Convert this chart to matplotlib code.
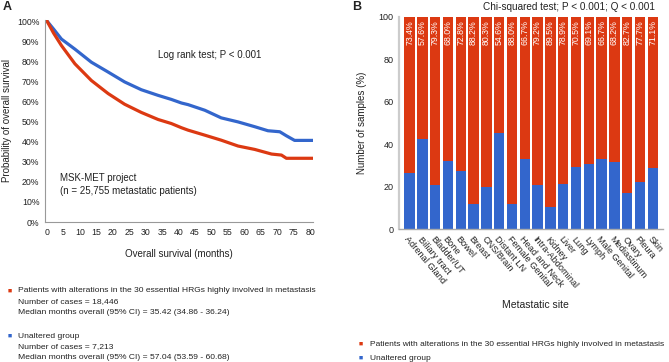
import matplotlib.pyplot as plt
import numpy as np

plt.rcParams['font.family'] = ['Liberation Sans', 'DejaVu Sans']
plt.rcParams['text.color'] = '#222222'
plt.rcParams['axes.labelcolor'] = '#222222'
plt.rcParams['xtick.color'] = '#222222'
plt.rcParams['ytick.color'] = '#222222'

RED = '#dc3912'
BLUE = '#3366cc'

# panel A: Kaplan-Meier curves
months_alt = [0, 2, 4.4, 8.5, 13.5, 18.6, 23.6, 28.7, 33.8, 37.8, 40.9, 42.9,
              48, 53, 58.1, 63.2, 68.3, 71.3, 72.8, 81.4]
surv_alt = [100, 94, 87.8, 78.7, 70.4, 63.9, 58.6, 54.5, 51, 49, 46.9, 45.7,
            43.2, 40.7, 37.8, 36.1, 33.8, 33.3, 31.7, 31.7]
months_unalt = [0, 2, 4.4, 8.5, 13.5, 18.6, 23.6, 28.7, 33.8, 37.8, 40.9, 42.9,
                48, 53, 58.1, 63.2, 67.2, 70.8, 72.8, 75.3, 80.9]
surv_unalt = [100, 96, 91, 86, 79.5, 74.6, 69.7, 65.8, 63, 61, 59.2, 58.4,
              55.6, 51.8, 49.8, 47.4, 45.4, 44.9, 42.9, 40.6, 40.6]
x_ticks_a = list(range(0, 81, 5))
y_ticks_a = list(range(0, 101, 10))

# panel B: % of altered samples per metastatic site
sites = ['Adrenal Gland', 'Biliary tract', 'Bladder/UT', 'Bone', 'Bowel', 'Breast',
         'CNS/Brain', 'Distant LN', 'Female Genital', 'Head and Neck',
         'Intra-Abdominal', 'Kidney', 'Liver', 'Lung', 'Lymph', 'Male Genital',
         'Mediastinum', 'Ovary', 'Pleura', 'Skin']
altered_pct = [73.4, 57.6, 79.3, 68.0, 72.8, 88.2, 80.3, 54.6, 88.0, 66.7,
               79.2, 89.5, 78.9, 70.5, 69.1, 66.7, 68.2, 82.7, 77.7, 71.1]
unaltered_pct = [round(100 - v, 1) for v in altered_pct]

W, H = 669, 362
fig = plt.figure(figsize=(W / 100, H / 100), dpi=100)


def px_axes(left, top, right, bottom):
    return fig.add_axes([left / W, 1 - bottom / H, (right - left) / W, (bottom - top) / H])


# ---------- A ----------
ax = px_axes(45, 20, 313, 222)
ax.plot(months_unalt, surv_unalt, color=BLUE, lw=2.3, solid_capstyle='round')
ax.plot(months_alt, surv_alt, color=RED, lw=2.3, solid_capstyle='round')
ax.set_xlim(-0.6, 80.9)
ax.set_ylim(0, 100.5)
ax.set_xticks(x_ticks_a)
ax.set_yticks(y_ticks_a)
ax.set_yticklabels([f'{v}%' for v in y_ticks_a])
ax.tick_params(length=0, labelsize=6.3, pad=4)
for s in ['top', 'right']:
    ax.spines[s].set_visible(False)
for s in ['left', 'bottom']:
    ax.spines[s].set_color('#999999')
    ax.spines[s].set_linewidth(0.8)
ax.set_xlabel('Overall survival (months)', fontsize=7, labelpad=9)
ax.set_ylabel('Probability of overall survival', fontsize=7, labelpad=4)
ax.text(0.42, 0.81, 'Log rank test; P < 0.001', transform=ax.transAxes, fontsize=7)
ax.text(0.055, 0.13, 'MSK-MET project\n(n = 25,755 metastatic patients)',
        transform=ax.transAxes, fontsize=7, linespacing=1.3, va='bottom')

fig.text(3 / W, 1 - 7 / H, 'A', fontsize=9, fontweight='bold', va='center')
fig.text(352 / W, 1 - 7 / H, 'B', fontsize=9, fontweight='bold', va='center')

legend_a = [
    (RED, 291, ['Patients with alterations in the 30 essential HRGs highly involved in metastasis',
                'Number of cases = 18,446',
                'Median months overall (95% CI) = 35.42 (34.86 - 36.24)']),
    (BLUE, 336, ['Unaltered group',
                 'Number of cases = 7,213',
                 'Median months overall (95% CI) = 57.04 (53.59 - 60.68)']),
]
for col, y0, lines in legend_a:
    fig.text(10 / W, 1 - y0 / H, '\u25a0', color=col, fontsize=5, va='center', ha='center')
    for i, line in enumerate(lines):
        fig.text(18 / W, 1 - (y0 + i * 10.8) / H, line, fontsize=6.1, va='center')

# ---------- B ----------
bx = px_axes(399, 16.7, 663, 229.3)
xpos = np.arange(len(sites))
bx.bar(xpos, unaltered_pct, width=0.82, color=BLUE)
bx.bar(xpos, altered_pct, width=0.82, bottom=unaltered_pct, color=RED)
for x, v in zip(xpos, altered_pct):
    bx.text(x, 98.3, f'{v:.1f}%', rotation=90, ha='center', va='top',
            color='white', fontsize=6.3)
bx.set_xlim(-0.83, 19.8)
bx.set_ylim(0, 100)
bx.set_yticks([0, 20, 40, 60, 80, 100])
bx.set_xticks(xpos)
bx.set_xticklabels(sites, rotation=-50, ha='left', va='top', rotation_mode='anchor')
bx.tick_params(axis='x', length=0, labelsize=6.6, pad=4)
bx.tick_params(axis='y', length=0, labelsize=6.5, pad=4)
for s in ['top', 'right']:
    bx.spines[s].set_visible(False)
bx.spines['left'].set_color('#cccccc')
bx.spines['left'].set_linewidth(1.6)
bx.spines['bottom'].set_color('#aaaaaa')
bx.spines['bottom'].set_linewidth(1.0)
bx.set_ylabel('Number of samples (%)', fontsize=7, labelpad=8)
fig.text(535 / W, 1 - 305 / H, 'Metastatic site', fontsize=7.5, ha='center', va='center')
fig.text(655 / W, 1 - 7 / H, 'Chi-squared test; P < 0.001; Q < 0.001', fontsize=7.2,
         ha='right', va='center')

legend_b = [(RED, 344, 'Patients with alterations in the 30 essential HRGs highly involved in metastasis'),
            (BLUE, 358, 'Unaltered group')]
for col, y0, label in legend_b:
    fig.text(361 / W, 1 - y0 / H, '\u25a0', color=col, fontsize=5, va='center', ha='center')
    fig.text(370 / W, 1 - y0 / H, label, fontsize=6.0, va='center')

fig.savefig('out.png', dpi=100)
